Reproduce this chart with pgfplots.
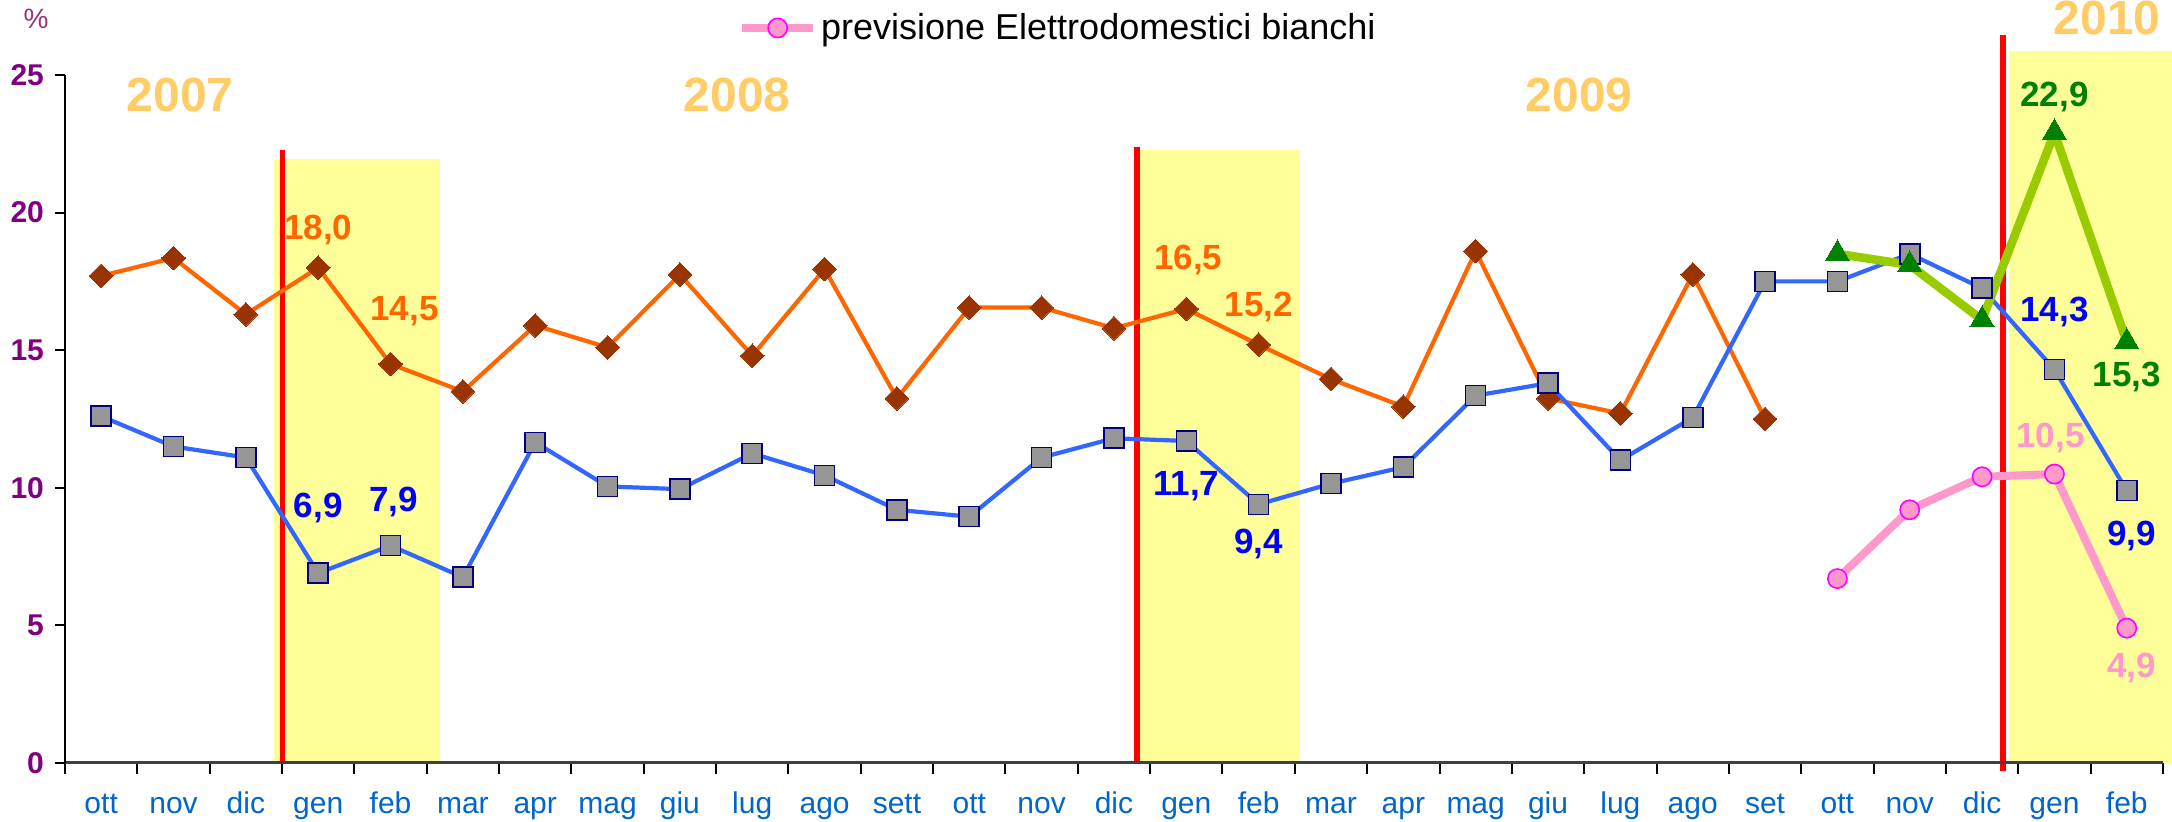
\documentclass[border=0pt]{standalone}
\usepackage{pgfplots}
\pgfplotsset{compat=1.18}
\usepackage{fontspec}
\setmainfont{Liberation Sans}
\definecolor{orl}{HTML}{FF6600}
\definecolor{ord}{HTML}{993300}
\definecolor{bll}{HTML}{3366FF}
\definecolor{sqf}{HTML}{969696}
\definecolor{sqd}{HTML}{000080}
\definecolor{grl}{HTML}{99CC00}
\definecolor{grm}{HTML}{008000}
\definecolor{pkl}{HTML}{FF99CC}
\definecolor{pkd}{HTML}{FF00FF}
\definecolor{yel}{HTML}{FFFF99}
\definecolor{yr}{HTML}{FFCC66}
\definecolor{tickc}{HTML}{800080}
\definecolor{xlc}{HTML}{0066CC}
\definecolor{lblue}{HTML}{0000FF}
\definecolor{pct}{HTML}{993377}
\newcommand\fs[1]{\fontsize{#1}{#1}\selectfont}

\pgfplotstableread{
x y
0 17.7
1 18.35
2 16.3
3 18.0
4 14.5
5 13.5
6 15.9
7 15.1
8 17.75
9 14.8
10 17.95
11 13.25
12 16.55
13 16.55
14 15.8
15 16.5
16 15.2
17 13.95
18 12.95
19 18.6
20 13.25
21 12.7
22 17.75
23 12.5
}\orange

\pgfplotstableread{
x y
0 12.6
1 11.5
2 11.1
3 6.9
4 7.9
5 6.75
6 11.65
7 10.05
8 9.95
9 11.25
10 10.45
11 9.2
12 8.95
13 11.1
14 11.8
15 11.7
16 9.4
17 10.15
18 10.75
19 13.35
20 13.8
21 11.0
22 12.55
23 17.5
24 17.5
25 18.5
26 17.25
27 14.3
28 9.9
}\blue

\pgfplotstableread{
x y
24 18.5
25 18.1
26 16.1
27 22.9
28 15.3
}\green

\pgfplotstableread{
x y
24 6.7
25 9.2
26 10.4
27 10.5
28 4.9
}\pink

\begin{document}
\begin{tikzpicture}
\path[use as bounding box] (-32.5pt,-29.5pt) rectangle (1053.5pt,381.5pt);
\begin{axis}[
  at={(0pt,0pt)}, anchor=south west,
  scale only axis, width=1049pt, height=344pt,
  xmin=-0.5, xmax=28.5, ymin=0, ymax=25,
  clip=false, axis on top,
  axis x line=bottom, axis y line=left,
  axis line style={-},
  x axis line style={black!75, line width=1.5pt},
  y axis line style={black, line width=1pt},
  xtick={0,...,28},
  xticklabels={ott,nov,dic,gen,feb,mar,apr,mag,giu,lug,ago,sett,ott,nov,dic,gen,feb,mar,apr,mag,giu,lug,ago,set,ott,nov,dic,gen,feb},
  minor xtick={-0.5,0.5,...,28.5},
  ytick={0,5,...,25},
  tick align=outside,
  major tick length=5pt, minor tick length=5.5pt,
  every major x tick/.style={draw=none},
  every minor x tick/.style={black, line width=1pt},
  every major y tick/.style={black, line width=1pt},
  /pgf/number format/assume math mode=true,
  xticklabel style={font=\fs{15}, text=xlc, anchor=base, yshift=-20.5pt},
  yticklabel style={font=\fs{15}\bfseries, text=tickc, xshift=-2pt},
  legend style={at={(axis cs:8.8,26.71)}, anchor=west, draw=none, fill=none,
    font=\fs{18}, inner sep=0pt, nodes={inner xsep=2pt}},
  legend image code/.code={\draw[mark repeat=2,mark phase=2] plot coordinates {(0pt,0pt) (17.75pt,0pt) (35.5pt,0pt)};},
]
% yellow bands
\addplot[fill=yel, draw=none, forget plot] coordinates {(2.39,21.95) (4.68,21.95)} \closedcycle;
\addplot[fill=yel, draw=none, forget plot] coordinates {(14.33,22.29) (16.57,22.29)} \closedcycle;
\addplot[fill=yel, draw=none, forget plot] coordinates {(26.37,25.87) (28.63,25.87)} \closedcycle;
% red lines
\addplot[red, line width=2.7pt, forget plot] coordinates {(2.51,0) (2.51,22.27)};
\addplot[red, line width=2.7pt, forget plot] coordinates {(14.32,0) (14.32,22.38)};
\addplot[red, line width=2.7pt, forget plot] coordinates {(26.29,-0.3) (26.29,26.45)};
% series
\addplot[orl, line width=2.1pt, mark=square*, mark size=4.2pt,
  mark options={draw=ord, fill=ord, rotate=45, line width=0pt}, forget plot] table[x=x,y=y] {\orange};
\addplot[bll, line width=2.1pt, mark=square*, mark size=5pt,
  mark options={draw=sqd, fill=sqf, line width=0.8pt}, forget plot] table[x=x,y=y] {\blue};
\addplot[grl, line width=4.3pt, mark=triangle*, mark size=7pt,
  mark options={draw=grm, fill=grm, line width=0pt}, forget plot] table[x=x,y=y] {\green};
\addplot[pkl, line width=4pt, mark=*, mark size=4.8pt,
  mark options={draw=pkd, fill=pkl, line width=0.8pt}] table[x=x,y=y] {\pink};
\addlegendentry{previsione Elettrodomestici bianchi}

% year labels
\node[font=\fs{24}\bfseries, text=yr] at (axis cs:1.09,24.27) {2007};
\node[font=\fs{24}\bfseries, text=yr] at (axis cs:8.79,24.27) {2008};
\node[font=\fs{24}\bfseries, text=yr] at (axis cs:20.43,24.27) {2009};
\node[font=\fs{24}\bfseries, text=yr] at (axis cs:27.73,27.07) {2010};
\node[font=\fs{14}, text=pct] at (axis cs:-0.9,27.03) {\%};

% data labels
\tikzset{dl/.style={font=\fs{17.5}\bfseries}}
\node[dl, text=orl, yshift=19pt] at (axis cs:3,18.0) {18,0};
\node[dl, text=orl, xshift=7pt, yshift=26.5pt] at (axis cs:4,14.5) {14,5};
\node[dl, text=lblue, yshift=32.5pt] at (axis cs:3,6.9) {6,9};
\node[dl, text=lblue, xshift=1.5pt, yshift=22pt] at (axis cs:4,7.9) {7,9};
\node[dl, text=orl, xshift=1pt, yshift=24.5pt] at (axis cs:15,16.5) {16,5};
\node[dl, text=orl, yshift=19pt] at (axis cs:16,15.2) {15,2};
\node[dl, text=lblue, yshift=-22.5pt] at (axis cs:15,11.7) {11,7};
\node[dl, text=lblue, yshift=-20pt] at (axis cs:16,9.4) {9,4};
\node[dl, text=grm, yshift=18pt] at (axis cs:27,22.9) {22,9};
\node[dl, text=lblue, yshift=28.5pt] at (axis cs:27,14.3) {14,3};
\node[dl, text=grm, yshift=-17.5pt] at (axis cs:28,15.3) {15,3};
\node[dl, text=lblue, xshift=2.5pt, yshift=-22.5pt] at (axis cs:28,9.9) {9,9};
\node[dl, text=pkl, xshift=-2pt, yshift=18pt] at (axis cs:27,10.5) {10,5};
\node[dl, text=pkl, xshift=2.5pt, yshift=-20pt] at (axis cs:28,4.9) {4,9};
\end{axis}
\end{tikzpicture}
\end{document}
